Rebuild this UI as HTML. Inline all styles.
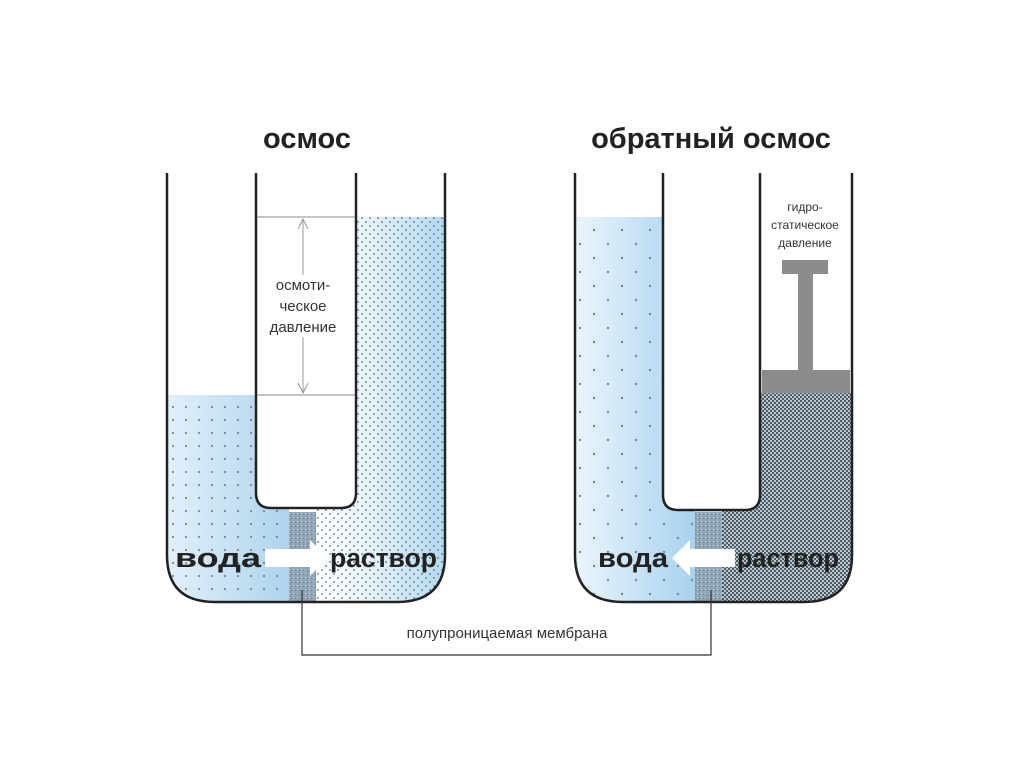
<!DOCTYPE html>
<html><head><meta charset="utf-8"><style>
html,body{margin:0;padding:0;background:#fff;}
svg{display:block;}
text{font-family:"Liberation Sans",sans-serif;}
</style></head><body>
<svg width="1024" height="767" viewBox="0 0 1024 767" xmlns="http://www.w3.org/2000/svg">
<defs>
<pattern id="sparse" width="13" height="13" patternUnits="userSpaceOnUse"><circle cx="4" cy="4" r="1.1" fill="#6a8aa0"/></pattern>
<pattern id="sparse2" width="28" height="28" patternUnits="userSpaceOnUse"><circle cx="6" cy="6" r="1.2" fill="#6a8aa0"/><circle cx="20" cy="20" r="1.2" fill="#6a8aa0"/></pattern>
<pattern id="dense" width="8" height="8" patternUnits="userSpaceOnUse"><circle cx="2" cy="2" r="0.9" fill="#52707f"/><circle cx="6" cy="6" r="0.9" fill="#52707f"/></pattern>
<pattern id="check" width="4" height="4" patternUnits="userSpaceOnUse"><rect width="4" height="4" fill="#b8c6cf"/><rect width="2" height="2" fill="#4d5a63"/><rect x="2" y="2" width="2" height="2" fill="#4d5a63"/></pattern>
<pattern id="memb" width="4" height="4" patternUnits="userSpaceOnUse"><rect width="4" height="4" fill="#8fa4b4"/><rect width="1" height="1" x="1" y="1" fill="#c4d2dc"/><rect width="1" height="1" x="3" y="2" fill="#6b7f8d"/></pattern>
<linearGradient id="wl" x1="0" x2="1"><stop offset="0" stop-color="#e2f0fa"/><stop offset="1" stop-color="#aed3ec"/></linearGradient>
<linearGradient id="wr" x1="0" x2="1"><stop offset="0" stop-color="#eaf5fc"/><stop offset="1" stop-color="#a9d2ee"/></linearGradient>
<linearGradient id="sl" x1="0" x2="1"><stop offset="0" stop-color="#ffffff"/><stop offset="0.4" stop-color="#e6f2fa"/><stop offset="1" stop-color="#b4d9ef"/></linearGradient>
<clipPath id="v1"><path d="M167,173 L167,555 Q167,602 215,602 L397,602 Q445,602 445,555 L445,173 Z"/></clipPath>
<clipPath id="v2"><path d="M575,173 L575,555 Q575,602 623,602 L804,602 Q852,602 852,555 L852,173 Z"/></clipPath>
</defs>

<text x="307" y="148" font-size="29" font-weight="bold" text-anchor="middle" fill="#222">осмос</text>
<text x="711" y="148" font-size="29" font-weight="bold" text-anchor="middle" fill="#222">обратный осмос</text>

<!-- LEFT vessel -->
<g clip-path="url(#v1)">
<rect x="167" y="395" width="122" height="210" fill="url(#wl)"/>
<rect x="167" y="395" width="122" height="210" fill="url(#sparse)"/>
<rect x="316" y="217" width="130" height="390" fill="url(#sl)"/>
<rect x="316" y="217" width="130" height="390" fill="url(#dense)"/>
<rect x="289" y="512" width="27" height="95" fill="url(#memb)"/>
</g>
<path d="M256,173 L256,493 Q256,508 271,508 L341,508 Q356,508 356,493 L356,173" fill="#fff" stroke="#222" stroke-width="2.5"/>
<path d="M167,173 L167,555 Q167,602 215,602 L397,602 Q445,602 445,555 L445,173" fill="none" stroke="#222" stroke-width="2.5"/>
<line x1="257" y1="217" x2="355" y2="217" stroke="#888" stroke-width="1"/>
<line x1="257" y1="395" x2="355" y2="395" stroke="#888" stroke-width="1"/>
<line x1="303" y1="220" x2="303" y2="392" stroke="#999" stroke-width="1"/>
<path d="M298,229 L303,219 L308,229 M298,383 L303,393 L308,383" fill="none" stroke="#999" stroke-width="1"/>
<rect x="262" y="275" width="82" height="62" fill="#fff"/>
<text x="303" y="290" font-size="15" text-anchor="middle" fill="#333">осмоти-</text>
<text x="303" y="311" font-size="15" text-anchor="middle" fill="#333">ческое</text>
<text x="303" y="332" font-size="15" text-anchor="middle" fill="#333">давление</text>
<path d="M265,549 L310,549 L310,540 L328,558 L310,576 L310,567 L265,567 Z" fill="#fff"/>
<text x="175" y="567" font-size="27" font-weight="bold" fill="#222" textLength="86" lengthAdjust="spacingAndGlyphs">вода</text>
<text x="330" y="567" font-size="27" font-weight="bold" fill="#222" textLength="107" lengthAdjust="spacingAndGlyphs">раствор</text>

<!-- RIGHT vessel -->
<g clip-path="url(#v2)">
<rect x="575" y="217" width="120" height="390" fill="url(#wr)"/>
<rect x="575" y="217" width="120" height="390" fill="url(#sparse2)"/>
<rect x="722" y="393" width="131" height="214" fill="url(#check)"/>
<rect x="722" y="505" width="40" height="100" fill="url(#check)"/>
<rect x="695" y="512" width="27" height="95" fill="url(#memb)"/>
</g>
<path d="M663,173 L663,495 Q663,510 678,510 L745,510 Q760,510 760,495 L760,173" fill="#fff" stroke="#222" stroke-width="2.5"/>
<path d="M575,173 L575,555 Q575,602 623,602 L804,602 Q852,602 852,555 L852,173" fill="none" stroke="#222" stroke-width="2.5"/>
<rect x="762" y="370" width="88" height="23" fill="#8a8c8e"/>
<rect x="798" y="270" width="15" height="101" fill="#8a8c8e"/>
<rect x="782" y="260" width="46" height="14" fill="#8a8c8e"/>
<text x="805" y="211" font-size="12" text-anchor="middle" fill="#333">гидро-</text>
<text x="805" y="229" font-size="12" text-anchor="middle" fill="#333">статическое</text>
<text x="805" y="247" font-size="12" text-anchor="middle" fill="#333">давление</text>
<path d="M735,549 L690,549 L690,540 L672,558 L690,576 L690,567 L735,567 Z" fill="#fff"/>
<text x="598" y="567" font-size="27" font-weight="bold" fill="#222" textLength="70" lengthAdjust="spacingAndGlyphs">вода</text>
<text x="737" y="567" font-size="27" font-weight="bold" fill="#222" textLength="102" lengthAdjust="spacingAndGlyphs">раствор</text>

<!-- bracket -->
<path d="M302,590 L302,655 L711,655 L711,590" fill="none" stroke="#333" stroke-width="1.2"/>
<text x="507" y="638" font-size="15" text-anchor="middle" fill="#333">полупроницаемая мембрана</text>
</svg>
</body></html>
